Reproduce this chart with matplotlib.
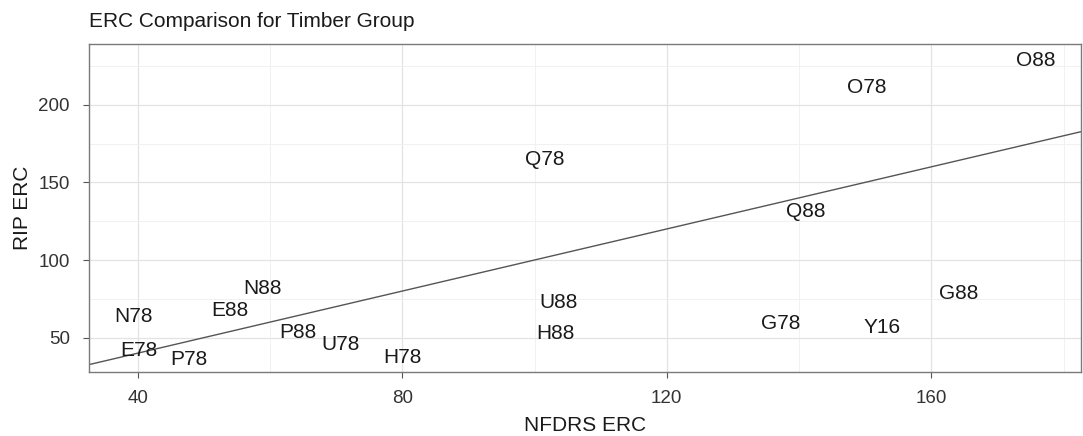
import numpy as np
import matplotlib
matplotlib.use("Agg")
import matplotlib.pyplot as plt

plt.rcParams['font.family'] = ['Liberation Sans', 'DejaVu Sans']

# Data (label positions = data points)
labels = ['N78', 'E78', 'P78', 'E88', 'N88', 'P88', 'U78', 'H78', 'Q78', 'U88',
          'H88', 'O78', 'O88', 'Q88', 'G78', 'Y16', 'G88']
nfdrs = [39.4, 40.2, 47.7, 53.9, 58.9, 64.2, 70.7, 80.0, 101.5, 103.7,
         103.1, 150.2, 175.8, 141.0, 137.3, 152.6, 164.1]
rip = [64.6, 43.1, 37.3, 68.9, 82.7, 54.9, 47.0, 38.8, 166.2, 74.1,
       54.1, 212.3, 229.7, 132.5, 60.3, 58.1, 79.7]

x_ticks = [40, 80, 120, 160]
y_ticks = [50, 100, 150, 200]

fig = plt.figure(figsize=(10.83, 4.36), dpi=100)
ax = fig.add_axes([0.0819, 0.1461, 0.998 - 0.0819, 0.8998 - 0.1461])

x = np.array(nfdrs)
y = np.array(rip)
xr = x.max() - x.min()
yr = y.max() - y.min()
ax.set_xlim(x.min() - 0.05 * xr, x.max() + 0.05 * xr)
ax.set_ylim(y.min() - 0.05 * yr, y.max() + 0.05 * yr)

# grid (theme_bw style)
ax.set_xticks(x_ticks)
ax.set_yticks(y_ticks)
ax.set_xticks([60, 100, 140, 180], minor=True)
ax.set_yticks([75, 125, 175, 225], minor=True)
ax.grid(which='major', color='#e3e3e3', linewidth=0.9)
ax.grid(which='minor', color='#efefef', linewidth=0.6)
ax.set_axisbelow(True)
ax.tick_params(which='minor', length=0)
ax.tick_params(which='major', length=4.5, color='#555555', width=0.8,
               labelsize=13.5, labelcolor='#333333')
ax.tick_params(axis='x', pad=8)
ax.tick_params(axis='y', pad=9)
for s in ax.spines.values():
    s.set_color('#7a7a7a')
    s.set_linewidth(1.0)

# 1:1 line
ax.axline((0, 0), slope=1, color='#555555', linewidth=1.0)

for lab, xi, yi in zip(labels, nfdrs, rip):
    ax.text(xi, yi, lab, ha='center', va='center_baseline', fontsize=15,
            color='#1a1a1a')

ax.set_xlabel('NFDRS ERC', fontsize=15, color='#1a1a1a', labelpad=7)
ax.set_ylabel('RIP ERC', fontsize=15, color='#1a1a1a', labelpad=5)
ax.set_title('ERC Comparison for Timber Group', loc='left', fontsize=15,
             color='#1a1a1a', pad=12)

fig.savefig('out.png', dpi=100)
